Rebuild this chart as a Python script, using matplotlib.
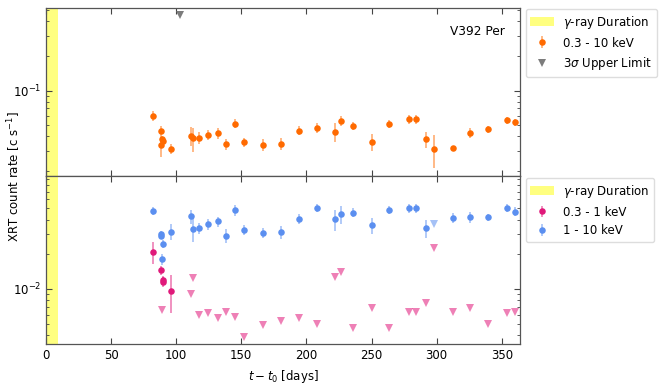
import numpy as np
import matplotlib
matplotlib.use("Agg")
import matplotlib.pyplot as plt
from matplotlib.patches import Patch
from matplotlib.lines import Line2D

# ---------------- data ----------------
gamma_span = [0, 9]

# top panel: 0.3 - 10 keV
t_full = [82.1, 88.7, 89.2, 88.7, 90.0, 96.2, 111.3, 112.6, 117.2, 124.4, 131.8, 137.9,
          144.9, 152.0, 166.4, 180.2, 194.6, 207.9, 222.3, 226.4, 235.6, 250.0, 263.6,
          279.0, 284.1, 291.8, 297.9, 312.3, 325.6, 339.7, 354.1, 360.2]
r_full = [0.0603, 0.0449, 0.0378, 0.0335, 0.0363, 0.0313, 0.0404, 0.0383, 0.0388, 0.0412,
          0.0426, 0.0342, 0.0516, 0.0356, 0.0337, 0.0346, 0.0449, 0.0474, 0.0437, 0.0545,
          0.0493, 0.0360, 0.0513, 0.0564, 0.0564, 0.0378, 0.0311, 0.0319, 0.0429, 0.0461,
          0.0553, 0.0531]
e_full = [0.0060, 0.0045, 0.0024, 0.0070, 0.0030, 0.0031, 0.0075, 0.0090, 0.0045, 0.0040,
          0.0045, 0.0035, 0.0045, 0.0030, 0.0040, 0.0040, 0.0040, 0.0045, 0.0080, 0.0055,
          0.0035, 0.0060, 0.0045, 0.0050, 0.0050, 0.0062, 0.0100, 0.0010, 0.0040, 0.0030,
          0.0040, 0.0040]
t_full_ul = [103.3]
r_full_ul = [0.449]

# bottom panel: 1 - 10 keV
t_hard = [82.1, 88.7, 88.7, 89.7, 89.0, 96.2, 111.3, 112.6, 117.2, 124.4, 131.8, 137.9,
          144.9, 152.0, 166.4, 180.2, 194.6, 207.9, 222.3, 226.4, 235.6, 250.0, 263.6,
          279.0, 284.1, 291.8, 312.3, 325.6, 339.7, 354.1, 360.2]
r_hard = [0.0476, 0.0299, 0.0289, 0.0245, 0.0181, 0.0315, 0.0426, 0.0333, 0.0337, 0.0366,
          0.0385, 0.0290, 0.0481, 0.0326, 0.0305, 0.0313, 0.0405, 0.0501, 0.0401, 0.0448,
          0.0459, 0.0356, 0.0485, 0.0501, 0.0501, 0.0335, 0.0413, 0.0418, 0.0421, 0.0501,
          0.0469]
e_hard = [0.0040, 0.0020, 0.0020, 0.0020, 0.0020, 0.0050, 0.0060, 0.0080, 0.0035, 0.0040,
          0.0040, 0.0040, 0.0050, 0.0030, 0.0030, 0.0040, 0.0040, 0.0040, 0.0085, 0.0080,
          0.0040, 0.0057, 0.0040, 0.0045, 0.0045, 0.0060, 0.0040, 0.0045, 0.0030, 0.0040,
          0.0040]
t_hard_ul = [297.9]
r_hard_ul = [0.0366]

# bottom panel: 0.3 - 1 keV
t_soft = [82.1, 88.7, 89.7, 90.0, 96.2]
r_soft = [0.0210, 0.0145, 0.0119, 0.0116, 0.00964]
e_soft = [0.0045, 0.0012, 0.0010, 0.0012, 0.0035]
t_soft_ul = [89.0, 112.8, 111.3, 117.2, 124.4, 131.8, 137.9, 144.9, 152.0, 166.4, 180.2,
             194.6, 207.9, 222.3, 226.4, 235.6, 250.0, 263.6, 279.0, 284.1, 291.8, 297.9,
             312.3, 325.6, 339.7, 354.1, 360.2]
r_soft_ul = [0.00652, 0.0124, 0.0090, 0.00589, 0.00614, 0.00562, 0.00626, 0.00574, 0.00383,
             0.00491, 0.00526, 0.00555, 0.00501, 0.0126, 0.0139, 0.00459, 0.00679, 0.00457,
             0.00631, 0.00631, 0.00757, 0.0225, 0.00631, 0.00688, 0.00495, 0.00614, 0.00635]

# ---------------- style ----------------
c_full = '#ff6a00'
c_hard = '#5b8ff0'
c_soft = '#e0197a'
c_ul = '#6e6e6e'
c_yel = '#ffff80'

plt.rcParams['font.family'] = ['DejaVu Sans']
plt.rcParams['font.size'] = 8.5

fig = plt.figure(figsize=(6.65, 3.84), dpi=100)
ax1 = fig.add_axes([0.069, 0.541, 0.713, 0.438])
ax2 = fig.add_axes([0.069, 0.103, 0.713, 0.438], sharex=ax1)

for ax in (ax1, ax2):
    ax.set_yscale('log')
    ax.axvspan(gamma_span[0], gamma_span[1], color=c_yel, lw=0, zorder=0)
    ax.tick_params(which='both', direction='in', top=True, right=True,
                   color='#444444', labelsize=8.5)
    ax.tick_params(which='major', length=4.5)
    ax.tick_params(which='minor', length=2.5)
    for s in ax.spines.values():
        s.set_color('#555555')
        s.set_linewidth(0.9)
    ax.yaxis.set_minor_formatter(matplotlib.ticker.NullFormatter())

ax1.set_xlim(0, 364)
ax1.set_ylim(0.018, 0.52)
ax2.set_ylim(0.0033, 0.095)
plt.setp(ax1.get_xticklabels(), visible=False)

eb_kw = dict(fmt='o', ms=4.7, elinewidth=1.1, capsize=0, mew=0)
tri_kw = dict(marker='v', ls='none', ms=6, mew=0)

# top panel
e1 = ax1.errorbar(t_full, r_full, yerr=e_full, color=c_full, ecolor=c_full, **eb_kw)
for lc in e1[2]:
    lc.set_alpha(0.6)
ax1.plot(t_full_ul, r_full_ul, color=c_ul, alpha=0.9, **tri_kw)
ax1.text(0.852, 0.858, 'V392 Per', transform=ax1.transAxes, fontsize=8.7,
         va='center', ha='left')

# bottom panel
e2 = ax2.errorbar(t_soft, r_soft, yerr=e_soft, color=c_soft, ecolor=c_soft, **eb_kw)
e3 = ax2.errorbar(t_hard, r_hard, yerr=e_hard, color=c_hard, ecolor=c_hard, **eb_kw)
for e in (e2, e3):
    for lc in e[2]:
        lc.set_alpha(0.6)
ax2.plot(t_soft_ul, r_soft_ul, color=c_soft, alpha=0.55, **tri_kw)
ax2.plot(t_hard_ul, r_hard_ul, color=c_hard, alpha=0.55, **tri_kw)

ax2.set_xlabel(r'$t-t_0$ [days]', fontsize=8.5)
fig.text(0.022, 0.54, r'XRT count rate [c s$^{-1}$]', rotation=90,
         ha='center', va='center', fontsize=8.5)

# legends
patch = Patch(facecolor=c_yel, edgecolor='none')
ul_handle = Line2D([], [], color=c_ul, alpha=0.9, **tri_kw)
leg_kw = dict(loc='upper left', fontsize=8.5, framealpha=1, edgecolor='#dddddd',
              borderaxespad=0, handlelength=2.0, fancybox=True)
ax1.legend([patch, e1, ul_handle],
           [r'$\gamma$-ray Duration', '0.3 - 10 keV', r'3$\sigma$ Upper Limit'],
           bbox_to_anchor=(1.012, 0.995), **leg_kw)
ax2.legend([patch, e2, e3],
           [r'$\gamma$-ray Duration', '0.3 - 1 keV', '1 - 10 keV'],
           bbox_to_anchor=(1.012, 0.99), **leg_kw)

fig.savefig('out.png', dpi=100)
